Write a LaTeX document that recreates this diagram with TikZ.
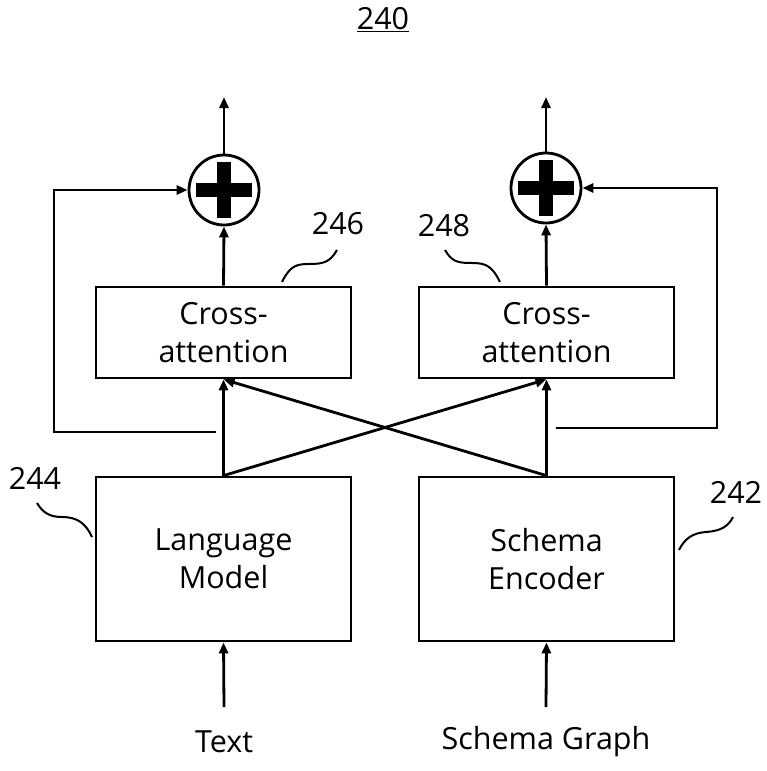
\documentclass[tikz,border=0pt]{standalone}
\usepackage{fontspec}
\setmainfont{Open Sans}
\usetikzlibrary{arrows.meta}
\tikzset{
  every node/.style={font=\fontsize{30.5}{38.5}\selectfont},
  blk/.style={draw, line width=2.8pt, minimum width=255pt, inner sep=0pt, align=center},
  adder/.style={draw, circle, line width=2.8pt, minimum size=70pt, inner sep=0pt},
  arr/.style={line width=2.8pt, -{Triangle[length=11pt,width=9pt]}},
  lead/.style={line width=2pt}
}
\begin{document}
\begin{tikzpicture}[x=1pt,y=-1pt]
\useasboundingbox (0,0) rectangle (767,771);
% title
\node (title) at (383,20) {\underline{240}};
% boxes
\node[blk, minimum height=91pt] (ca1) at (223.5,332.5) {Cross-\\attention};
\node[blk, minimum height=91pt] (ca2) at (546.5,332.5) {Cross-\\attention};
\node[blk, minimum height=164pt] (lm) at (223.5,559) {Language\\Model};
\node[blk, minimum height=164pt] (se) at (546.5,559) {Schema\\Encoder};
% adders
\node[adder] (p1) at (224,190) {};
\node[adder] (p2) at (546,188) {};
\fill[shift={(p1.center)}] (-28,-7) rectangle (28,7);
\fill[shift={(p1.center)}] (-7,-28) rectangle (7,28);
\fill[shift={(p2.center)}] (-28,-7) rectangle (28,7);
\fill[shift={(p2.center)}] (-7,-28) rectangle (7,28);
% outputs
\coordinate (o1) at (224,97);
\coordinate (o2) at (546,97);
\draw[arr] (p1.north) -- (o1);
\draw[arr] (p2.north) -- (o2);
\draw[arr] (ca1.north) -- (p1.south);
\draw[arr] (ca2.north) -- (p2.south);
% cross connections
\draw[arr] (lm.north) -- (ca1.south);
\draw[arr] (se.north) -- (ca2.south);
\draw[arr] (lm.north) -- (ca2.south);
\draw[arr] (se.north) -- (ca1.south);
% feedback
\coordinate (f1) at (216,432);
\coordinate (f2) at (556,428);
\draw[arr] (f1) -- ++(-162,0) |- (p1.west);
\draw[arr] (f2) -- ++(161,0) |- (p2.east);
% inputs
\node (txt) at (224,742) {Text};
\node (sg) at (546,742) {Schema Graph};
\coordinate (i1) at (224,707);
\coordinate (i2) at (546,707);
\draw[arr] (i1) -- (lm.south);
\draw[arr] (i2) -- (se.south);
% reference labels
\node (l246) at (338,224) {246};
\node (l248) at (444,226) {248};
\node (l244) at (35,478) {244};
\node (l242) at (736,492) {242};
\draw[lead] (282,282) .. controls (290,266) and (296,264) .. (309,264) .. controls (324,264) and (330,262) .. (337,250);
\draw[lead] (445,250) .. controls (452,262) and (458,263) .. (472,263) .. controls (486,263) and (492,266) .. (500,282);
\draw[lead] (37,503) .. controls (43,513) and (50,517) .. (62,517) .. controls (78,517) and (86,524) .. (92,537);
\draw[lead] (679,550) .. controls (685,538) and (693,533) .. (706,532) .. controls (720,531) and (728,527) .. (733,517);
\end{tikzpicture}
\end{document}
